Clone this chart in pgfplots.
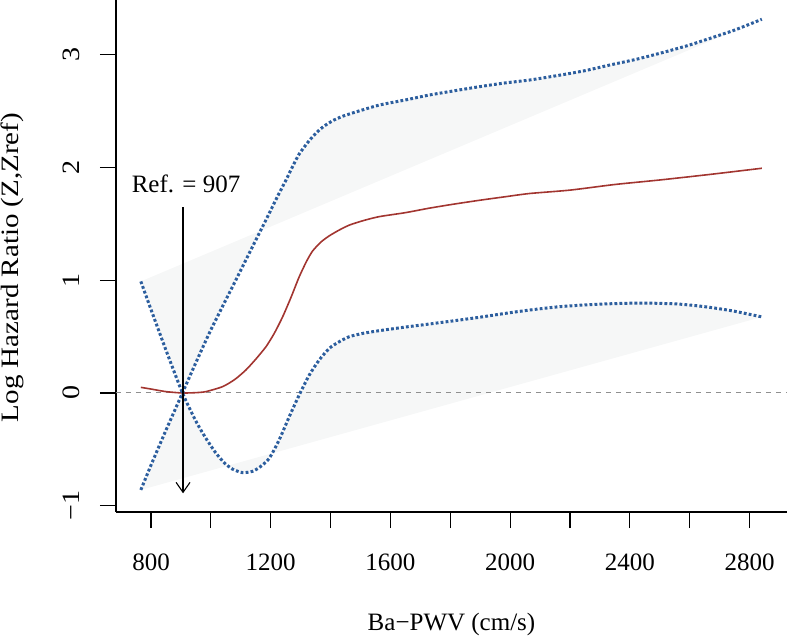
\documentclass[border=0pt]{standalone}
\usepackage{fontspec}
\setmainfont{Liberation Serif}
\usepackage{pgfplots}
\pgfplotsset{compat=1.18}
\usetikzlibrary{arrows.meta}
\definecolor{ciblue}{HTML}{2C5E9E}
\definecolor{estred}{HTML}{A23530}
\definecolor{shade}{HTML}{F6F7F7}
\definecolor{zgray}{HTML}{8F8F8F}

% upper CI (A) and lower CI (B)
\pgfplotstableread{
x y
766 -0.86
800 -0.64
850 -0.33
905 0.0
950 0.27
1000 0.56
1083 1.0
1130 1.25
1184 1.535
1220 1.73
1251 1.89
1275 2.02
1295 2.12
1320 2.21
1340 2.274
1365 2.34
1385 2.38
1410 2.42
1440 2.455
1480 2.49
1563 2.555
1650 2.60
1730 2.644
1810 2.68
1898 2.718
1980 2.75
2065 2.777
2166 2.82
2250 2.86
2333 2.91
2420 2.96
2500 3.014
2590 3.08
2668 3.147
2750 3.22
2841 3.316
}\upperci

\pgfplotstableread{
x y
766 0.99
800 0.74
850 0.38
905 0.0
950 -0.25
983 -0.40
1016 -0.53
1045 -0.62
1072 -0.675
1106 -0.707
1139 -0.695
1165 -0.655
1195 -0.58
1228 -0.417
1262 -0.21
1295 -0.018
1329 0.16
1362 0.293
1396 0.397
1429 0.455
1463 0.50
1510 0.53
1563 0.553
1650 0.585
1730 0.612
1810 0.64
1898 0.672
1980 0.705
2065 0.736
2166 0.766
2280 0.786
2389 0.796
2470 0.797
2556 0.790
2620 0.775
2680 0.755
2750 0.725
2841 0.675
}\lowerci

\pgfplotstableread{
x y
766 0.05
800 0.035
850 0.012
905 0.0
950 0.003
983 0.012
1039 0.056
1080 0.12
1117 0.204
1150 0.30
1184 0.41
1212 0.53
1240 0.677
1268 0.85
1295 1.03
1320 1.17
1340 1.26
1368 1.34
1396 1.395
1429 1.446
1463 1.49
1510 1.53
1563 1.565
1650 1.60
1730 1.64
1810 1.675
1898 1.71
1980 1.74
2065 1.77
2200 1.80
2350 1.85
2500 1.89
2670 1.94
2841 1.994
}\estimate

% polygon: upper CI forward, then lower CI forward (implicitly closed)
\pgfplotstableread{
x y
766 -0.86
800 -0.64
850 -0.33
905 0.0
950 0.27
1000 0.56
1083 1.0
1130 1.25
1184 1.535
1220 1.73
1251 1.89
1275 2.02
1295 2.12
1320 2.21
1340 2.274
1365 2.34
1385 2.38
1410 2.42
1440 2.455
1480 2.49
1563 2.555
1650 2.60
1730 2.644
1810 2.68
1898 2.718
1980 2.75
2065 2.777
2166 2.82
2250 2.86
2333 2.91
2420 2.96
2500 3.014
2590 3.08
2668 3.147
2750 3.22
2841 3.316
766 0.99
800 0.74
850 0.38
905 0.0
950 -0.25
983 -0.40
1016 -0.53
1045 -0.62
1072 -0.675
1106 -0.707
1139 -0.695
1165 -0.655
1195 -0.58
1228 -0.417
1262 -0.21
1295 -0.018
1329 0.16
1362 0.293
1396 0.397
1429 0.455
1463 0.50
1510 0.53
1563 0.553
1650 0.585
1730 0.612
1810 0.64
1898 0.672
1980 0.705
2065 0.736
2166 0.766
2280 0.786
2389 0.796
2470 0.797
2556 0.790
2620 0.775
2680 0.755
2750 0.725
2841 0.675
}\cipoly

\begin{document}
\begin{tikzpicture}
\useasboundingbox (0,0) rectangle (393.5pt,318.5pt);
\begin{axis}[
  at={(58pt,62.5pt)}, anchor=south west,
  width=335.5pt, height=256pt, scale only axis,
  xmin=683, xmax=2925, ymin=-1.056, ymax=3.487,
  axis x line*=bottom, axis y line*=left,
  axis line style={black, line width=0.6pt},
  tick align=outside, major tick length=8pt,
  tick style={black, line width=0.6pt},
  xtick={800,1000,...,2800},
  xticklabels={800,,1200,,1600,,2000,,2400,,2800},
  ytick={-1,0,1,2,3},
  yticklabels={−1,0,1,2,3},
  font=\fontsize{12.5}{14}\selectfont,
  xticklabel style={anchor=base},
  xticklabel shift=21pt,
  yticklabel style={rotate=90, xscale=1.12, anchor=base},
  yticklabel shift=10pt,
  xlabel={Ba−PWV (cm/s)},
  ylabel={Log Hazard Ratio (Z,Zref)},
  xlabel style={at={(axis description cs:0.5,-0.2324)}, anchor=base},
  ylabel style={at={(axis description cs:-0.1453,0.4775)}, rotate=0, xscale=1.16, anchor=base},
  clip=true,
]
\addplot[draw=none, fill=shade, even odd rule] table {\cipoly};
\addplot[zgray, line width=0.5pt, dash pattern=on 2.6pt off 2.4pt] coordinates {(683,0) (2925,0)};
\addplot[estred, line width=0.8pt, smooth, tension=0.4] table {\estimate};
\addplot[ciblue, line width=1.5pt, dash pattern=on 1.4pt off 1.1pt, smooth, tension=0.4] table {\upperci};
\addplot[ciblue, line width=1.5pt, dash pattern=on 1.4pt off 1.1pt, smooth, tension=0.4] table {\lowerci};
\addplot[black, line width=0.55pt, -{Straight Barb[length=5pt,width=7pt]}] coordinates {(907,1.65) (907,-0.89)};
\node[anchor=base, font=\fontsize{12.5}{14}\selectfont] at (axis cs:917,1.775) {Ref. = 907};
\end{axis}
\end{tikzpicture}
\end{document}
